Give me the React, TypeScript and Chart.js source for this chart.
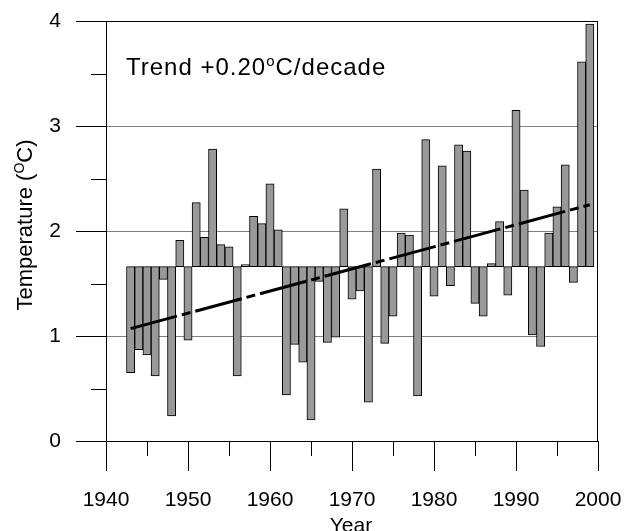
import React, { useEffect, useRef } from 'react';
import { Chart, registerables } from 'chart.js';

Chart.register(...registerables);

// Annual mean temperature, drawn as departures from the long-term mean
const years: number[] = [
  1943, 1944, 1945, 1946, 1947, 1948, 1949, 1950, 1951, 1952,
  1953, 1954, 1955, 1956, 1957, 1958, 1959, 1960, 1961, 1962,
  1963, 1964, 1965, 1966, 1967, 1968, 1969, 1970, 1971, 1972,
  1973, 1974, 1975, 1976, 1977, 1978, 1979, 1980, 1981, 1982,
  1983, 1984, 1985, 1986, 1987, 1988, 1989, 1990, 1991, 1992,
  1993, 1994, 1995, 1996, 1997, 1998, 1999,
];
const temperatures: number[] = [
  0.65, 0.87, 0.82, 0.62, 1.54, 0.24, 1.91, 0.96, 2.27, 1.94,
  2.78, 1.87, 1.85, 0.62, 1.68, 2.14, 2.07, 2.45, 2.01, 0.44,
  0.92, 0.75, 0.2, 1.52, 0.94, 0.99, 2.21, 1.35, 1.43, 0.37,
  2.59, 0.93, 1.19, 1.98, 1.96, 0.43, 2.87, 1.38, 2.62, 1.48,
  2.82, 2.76, 1.31, 1.19, 1.69, 2.09, 1.39, 3.15, 2.39, 1.01,
  0.9, 1.98, 2.23, 2.63, 1.51, 3.61, 3.97,
];
const meanTemperature = 1.66;

// Linear trend (+0.20 °C per decade)
const trendYears: number[] = [1943, 1999];
const trendValues: number[] = [1.07, 2.25];

const xMajorTicks: number[] = [1940, 1950, 1960, 1970, 1980, 1990, 2000];
const xMinorTicks: number[] = [1945, 1955, 1965, 1975, 1985, 1995];
const yMajorTicks: number[] = [0, 1, 2, 3, 4];
const yMinorTicks: number[] = [0.5, 1.5, 2.5, 3.5];

const FONT = '"Liberation Sans", Arial, sans-serif';

type Part = { text: string; size: number; dy: number };

// Draws a run of text pieces of mixed size (for superscripts) left to right
function drawParts(ctx: CanvasRenderingContext2D, parts: Part[], x: number, y: number, spacing: number) {
  let cx = x;
  for (const p of parts) {
    ctx.font = `${p.size}px ${FONT}`;
    (ctx as any).letterSpacing = `${spacing}px`;
    ctx.fillText(p.text, cx, y + p.dy);
    cx += ctx.measureText(p.text).width;
  }
  (ctx as any).letterSpacing = '0px';
}

function partsWidth(ctx: CanvasRenderingContext2D, parts: Part[], spacing: number) {
  let w = 0;
  for (const p of parts) {
    ctx.font = `${p.size}px ${FONT}`;
    (ctx as any).letterSpacing = `${spacing}px`;
    w += ctx.measureText(p.text).width;
  }
  (ctx as any).letterSpacing = '0px';
  return w;
}

const framePlugin = {
  id: 'frameAndLabels',
  afterDraw(chart: any) {
    const ctx: CanvasRenderingContext2D = chart.ctx;
    const { left, right, top, bottom } = chart.chartArea;
    const xs = chart.scales.x;
    const ys = chart.scales.y;
    ctx.save();
    ctx.strokeStyle = '#000';
    ctx.lineWidth = 1;
    ctx.beginPath();
    // frame
    ctx.moveTo(left, Math.round(top) + 0.5);
    ctx.lineTo(right, Math.round(top) + 0.5);
    ctx.moveTo(Math.round(right) - 0.5, top);
    ctx.lineTo(Math.round(right) - 0.5, bottom);
    // x tick marks
    for (const v of xMajorTicks) {
      const px = Math.round(xs.getPixelForValue(v)) + 0.5;
      ctx.moveTo(px, bottom);
      ctx.lineTo(px, bottom + 30);
    }
    for (const v of xMinorTicks) {
      const px = Math.round(xs.getPixelForValue(v)) + 0.5;
      ctx.moveTo(px, bottom);
      ctx.lineTo(px, bottom + 15);
    }
    // y tick marks
    for (const v of yMajorTicks) {
      const py = Math.round(ys.getPixelForValue(v)) + 0.5;
      ctx.moveTo(left - 30, py);
      ctx.lineTo(left, py);
    }
    for (const v of yMinorTicks) {
      const py = Math.round(ys.getPixelForValue(v)) + 0.5;
      ctx.moveTo(left - 15, py);
      ctx.lineTo(left, py);
    }
    ctx.stroke();

    ctx.fillStyle = '#000';
    ctx.textBaseline = 'alphabetic';
    ctx.textAlign = 'left';

    // trend annotation
    drawParts(
      ctx,
      [
        { text: 'Trend +0.20', size: 24, dy: 0 },
        { text: 'o', size: 15, dy: -9 },
        { text: 'C/decade', size: 24, dy: 0 },
      ],
      126,
      75,
      1,
    );

    // y axis title
    const yParts: Part[] = [
      { text: 'Temperature (', size: 22, dy: 0 },
      { text: 'O', size: 14, dy: -8 },
      { text: 'C)', size: 22, dy: 0 },
    ];
    const yw = partsWidth(ctx, yParts, 0);
    ctx.save();
    ctx.translate(32, 225);
    ctx.rotate(-Math.PI / 2);
    drawParts(ctx, yParts, -yw / 2, 0, 0);
    ctx.restore();

    // x axis title
    ctx.font = `21px ${FONT}`;
    ctx.textAlign = 'center';
    ctx.fillText('Year', 351, 532);
    ctx.restore();
  },
};

export default function App() {
  const canvasRef = useRef<HTMLCanvasElement>(null);

  useEffect(() => {
    if (!canvasRef.current) return;
    const chart = new Chart(canvasRef.current, {
      type: 'bar',
      data: {
        datasets: [
          {
            type: 'line',
            data: trendYears.map((x, i) => ({ x, y: trendValues[i] })),
            borderColor: '#000',
            borderWidth: 3,
            borderDash: [48, 5, 9, 5],
            pointRadius: 0,
            fill: false,
            order: 0,
          } as any,
          {
            type: 'bar',
            data: years.map((x, i) => ({ x, y: [meanTemperature, temperatures[i]] })),
            backgroundColor: '#999999',
            borderColor: '#000',
            borderWidth: 1,
            borderSkipped: false,
            categoryPercentage: 1,
            barPercentage: 1,
            order: 1,
          } as any,
        ],
      },
      options: {
        responsive: false,
        animation: false,
        events: [],
        layout: { padding: { top: 21, right: 30, left: 0, bottom: 0 } },
        plugins: { legend: { display: false }, tooltip: { enabled: false } },
        scales: {
          x: {
            type: 'linear',
            min: 1940,
            max: 2000,
            offset: false,
            afterFit: (s: any) => {
              s.height = 90;
            },
            ticks: {
              stepSize: 10,
              padding: 2,
              color: '#000',
              font: { family: FONT, size: 21 },
              callback: (v: any) => String(v),
              maxRotation: 0,
            },
            grid: {
              drawTicks: true,
              tickLength: 45,
              tickColor: 'rgba(0,0,0,0)',
              color: 'rgba(0,0,0,0)',
            },
            border: { display: true, color: '#000', width: 1 },
          },
          y: {
            type: 'linear',
            min: 0,
            max: 4,
            afterFit: (s: any) => {
              s.width = 106;
            },
            ticks: {
              stepSize: 1,
              padding: 2,
              color: '#000',
              font: { family: FONT, size: 21 },
              callback: (v: any) => String(v),
            },
            grid: {
              drawTicks: true,
              tickLength: 43,
              tickColor: 'rgba(0,0,0,0)',
              lineWidth: 1,
              color: (c: any) =>
                c.tick && c.tick.value >= 1 && c.tick.value <= 3 ? '#808080' : 'rgba(0,0,0,0)',
            },
            border: { display: true, color: '#000', width: 1 },
          },
        },
      } as any,
      plugins: [framePlugin],
    });
    return () => chart.destroy();
  }, []);

  return (
    <div style={{ position: 'fixed', left: 0, top: 0, width: 628, height: 531, background: '#fff' }}>
      <canvas ref={canvasRef} width={628} height={531} />
    </div>
  );
}
